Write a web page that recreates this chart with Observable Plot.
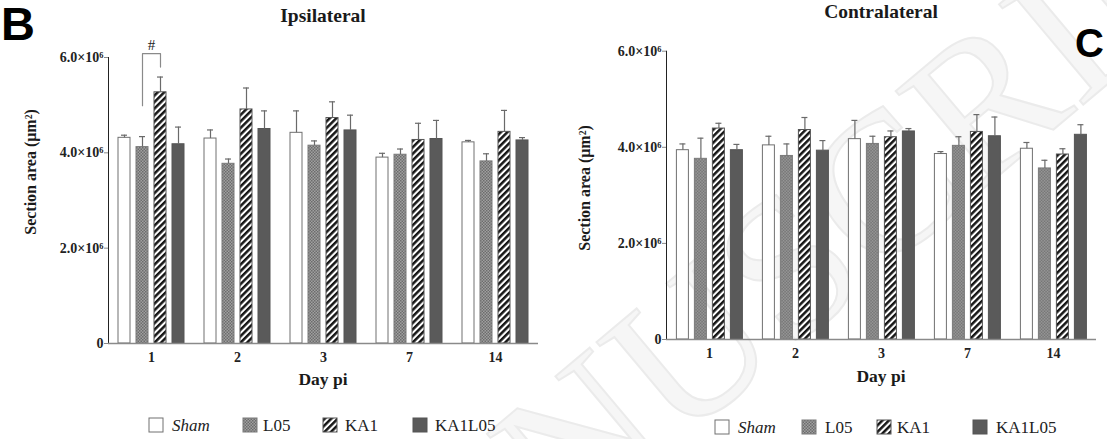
<!DOCTYPE html>
<html><head><meta charset="utf-8">
<script src="https://cdn.jsdelivr.net/npm/d3@7"></script>
<script src="https://cdn.jsdelivr.net/npm/@observablehq/plot@0.6"></script>
<style>
body{margin:0;background:#fff;}
#wrap{position:relative;width:1107px;height:439px;overflow:hidden;font-family:"Liberation Serif",serif;background:#fff;}
#wrap > svg{position:absolute;top:0;}
</style></head><body><div id="wrap"></div>
<script>
// ---- data (values in units of 10^6 µm²) ----
const days = [1, 2, 3, 7, 14];
const series = ["Sham", "L05", "KA1", "KA1L05"];
const yTicks = [0, 2e6, 4e6, 6e6];

// Ipsilateral means and SEM
const ipsiSham   = [4.315, 4.30, 4.42, 3.90, 4.22];
const ipsiL05    = [4.12, 3.77, 4.15, 3.96, 3.82];
const ipsiKA1    = [5.27, 4.91, 4.73, 4.27, 4.44];
const ipsiKA1L05 = [4.18, 4.50, 4.47, 4.29, 4.26];
const ipsiShamSem   = [0.055, 0.18, 0.46, 0.09, 0.04];
const ipsiL05Sem    = [0.22, 0.10, 0.10, 0.12, 0.16];
const ipsiKA1Sem    = [0.32, 0.45, 0.34, 0.35, 0.45];
const ipsiKA1L05Sem = [0.36, 0.38, 0.32, 0.39, 0.06];

// Contralateral means and SEM
const contraSham   = [3.94, 4.04, 4.17, 3.86, 3.97];
const contraL05    = [3.76, 3.82, 4.07, 4.03, 3.56];
const contraKA1    = [4.39, 4.36, 4.21, 4.32, 3.85];
const contraKA1L05 = [3.94, 3.93, 4.33, 4.23, 4.26];
const contraShamSem   = [0.13, 0.19, 0.39, 0.05, 0.13];
const contraL05Sem    = [0.43, 0.25, 0.16, 0.19, 0.17];
const contraKA1Sem    = [0.11, 0.26, 0.13, 0.36, 0.12];
const contraKA1L05Sem = [0.12, 0.21, 0.06, 0.40, 0.21];

// significance bracket (#), day 1, L05 vs KA1
const bracketSeries = ["L05", "L05", "KA1", "KA1"];
const bracketY = [4.99, 6.08, 6.08, 5.80];

// ---- styles ----
const fills   = {Sham: "#ffffff", L05: "url(#pL05)", KA1: "url(#pKA1)", KA1L05: "#5a5a5a"};
const strokes = {Sham: "#707070", L05: "#7a7a7a", KA1: "#555555", KA1L05: "#555555"};

const wrap = d3.select("#wrap");

// watermark (background)
const wm = wrap.append("svg").attr("width", 1107).attr("height", 439);
wm.append("text")
  .attr("transform", "translate(320,745) rotate(-40)")
  .attr("font-family", "Liberation Serif").attr("font-size", 200)
  .attr("fill", "#f6f6f6").attr("stroke", "#ebebeb").attr("stroke-width", 2)
  .text("MANUSCRIPT");

// pattern defs
const defsSvg = wrap.append("svg").attr("width", 0).attr("height", 0);
const defs = defsSvg.append("defs");
const p1 = defs.append("pattern").attr("id", "pL05").attr("patternUnits", "userSpaceOnUse").attr("width", 3).attr("height", 3);
p1.append("rect").attr("width", 3).attr("height", 3).attr("fill", "#a0a0a0");
p1.append("rect").attr("width", 1.5).attr("height", 1.5).attr("fill", "#6c6c6c");
p1.append("rect").attr("x", 1.5).attr("y", 1.5).attr("width", 1.5).attr("height", 1.5).attr("fill", "#6c6c6c");
const p2 = defs.append("pattern").attr("id", "pKA1").attr("patternUnits", "userSpaceOnUse")
  .attr("width", 4.6).attr("height", 10).attr("patternTransform", "rotate(45)");
p2.append("rect").attr("width", 4.6).attr("height", 10).attr("fill", "#fff");
p2.append("rect").attr("width", 2.5).attr("height", 10).attr("fill", "#151515");

function buildRows(means, sems) {
  const rows = [];
  series.forEach(s => days.forEach((d, i) => rows.push({
    day: d, series: s, value: means[s][i] * 1e6, upper: (means[s][i] + sems[s][i]) * 1e6
  })));
  return rows;
}

function panel(rows, {left, width, marginLeft, marginRight, marginTop, marginBottom, extra = []}) {
  const marks = [];
  series.forEach(s => {
    marks.push(Plot.barY(rows.filter(r => r.series === s), {
      fx: "day", x: "series", y: "value", fill: fills[s], stroke: strokes[s], strokeWidth: 1
    }));
  });
  marks.push(Plot.ruleX(rows, {fx: "day", x: "series", y1: "value", y2: "upper", stroke: "#6a6a6a", strokeWidth: 1.2}));
  marks.push(Plot.tickY(rows, {fx: "day", x: "series", y: "upper", stroke: "#6a6a6a", strokeWidth: 1.2, insetLeft: 3, insetRight: 3}));
  marks.push(Plot.ruleY([0], {stroke: "#8a8a8a", strokeWidth: 1.3}));
  marks.push(...extra);
  const p = Plot.plot({
    width, height: 439, marginLeft, marginRight, marginTop, marginBottom,
    style: {fontFamily: "Liberation Serif", fontSize: "14px", fontWeight: "bold", color: "#222", background: "transparent", overflow: "visible"},
    x: {domain: series, axis: null, paddingInner: 0.33, paddingOuter: 0.5},
    fx: {domain: days, padding: 0, axis: "bottom", tickSize: 0, tickPadding: 9, label: null},
    y: {domain: [0, 6e6], ticks: yTicks, tickFormat: d => d === 0 ? "0" : (d / 1e6).toFixed(1) + "×10⁶",
        tickSize: 4, tickPadding: 1, label: null, line: true},
    marks
  });
  p.style.left = left + "px";
  p.querySelectorAll('[aria-label*="axis"] path, [aria-label*="axis"] line').forEach(el => {
    el.setAttribute("stroke", "#8a8a8a");
  });
  p.querySelectorAll("text").forEach(el => {
    el.setAttribute("font-size", "14");
    el.style.fontSize = "14px";
  });
  wrap.node().appendChild(p);
  return p;
}

const ipsiRows = buildRows({Sham: ipsiSham, L05: ipsiL05, KA1: ipsiKA1, KA1L05: ipsiKA1L05},
                           {Sham: ipsiShamSem, L05: ipsiL05Sem, KA1: ipsiKA1Sem, KA1L05: ipsiKA1L05Sem});
const contraRows = buildRows({Sham: contraSham, L05: contraL05, KA1: contraKA1, KA1L05: contraKA1L05},
                             {Sham: contraShamSem, L05: contraL05Sem, KA1: contraKA1Sem, KA1L05: contraKA1L05Sem});

const bracket = bracketSeries.map((s, i) => ({day: 1, series: s, y: bracketY[i] * 1e6}));

const left = panel(ipsiRows, {left: 0, width: 560, marginLeft: 107, marginRight: 21.5, marginTop: 57, marginBottom: 96,
  extra: [Plot.line(bracket, {fx: "day", x: "series", y: "y", stroke: "#8a8a8a", strokeWidth: 1.2})]});
const right = panel(contraRows, {left: 547, width: 560, marginLeft: 117.6, marginRight: 9, marginTop: 50.7, marginBottom: 100});

// "#" label centred over the drawn bracket
{
  const path = left.querySelector('g[aria-label="line"] path');
  const r = path.getBoundingClientRect(), s = left.getBoundingClientRect();
  d3.select(left).append("text").attr("x", r.x + r.width / 2 - s.x).attr("y", r.y - s.y - 4)
    .attr("text-anchor", "middle")
    .attr("font-family", "Liberation Serif").attr("font-size", 15).attr("font-weight", "normal").attr("fill", "#222").text("#");
}

// overlay: titles, panel letters, axis titles, legends
const ov = wrap.append("svg").attr("width", 1107).attr("height", 439);
const txt = (x, y, s, o = {}) => ov.append("text").attr("x", x).attr("y", y)
  .attr("text-anchor", o.anchor || "middle").attr("font-family", o.family || "Liberation Serif")
  .attr("font-size", o.size || 17).attr("font-weight", o.weight || "bold").attr("fill", o.fill || "#1a1a1a")
  .attr("font-style", o.style || "normal").attr("transform", o.transform || null).text(s);

txt(1, 40, "B", {anchor: "start", family: "Liberation Sans", size: 47, fill: "#000"});
txt(1075, 57, "C", {anchor: "start", family: "Liberation Sans", size: 40, fill: "#000"});
txt(323, 22, "Ipsilateral", {size: 19.5});
txt(881, 18, "Contralateral", {size: 19.5});
txt(323, 385, "Day pi", {size: 17.5});
txt(881, 382, "Day pi", {size: 17.5});
txt(0, 0, "Section area (μm²)", {size: 16, transform: "translate(36,172) rotate(-90)"});
txt(0, 0, "Section area (μm²)", {size: 16, transform: "translate(590,188) rotate(-90)"});

function legend(boxXs, textXs, yc) {
  series.forEach((s, i) => {
    ov.append("rect").attr("x", boxXs[i]).attr("y", yc - 7).attr("width", 14).attr("height", 14)
      .attr("fill", fills[s]).attr("stroke", strokes[s]).attr("stroke-width", 1);
    txt(textXs[i], yc + 5.5, s, {anchor: "start", weight: "normal", size: 17, style: s === "Sham" ? "italic" : "normal", fill: "#222"});
  });
}
legend([149, 243, 323, 413], [172, 263, 345, 435], 425);
legend([715, 802, 877, 973], [738, 825, 897, 996], 427);
</script></body></html>
